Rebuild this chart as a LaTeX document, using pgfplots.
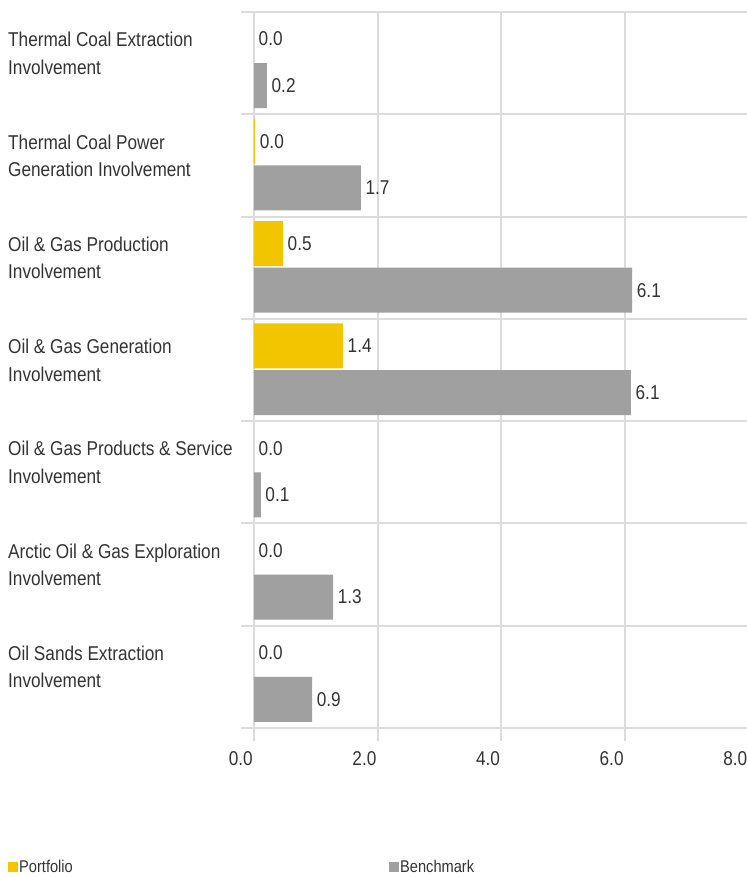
\documentclass[border=0pt]{standalone}
\usepackage{pgfplots}
\pgfplotsset{compat=1.18}
\usepackage{fontspec}
\setmainfont{Liberation Sans}[FakeStretch=0.86]
\definecolor{pyellow}{HTML}{F2C500}
\definecolor{bgray}{HTML}{A0A0A0}
\definecolor{gridc}{HTML}{DCDCDC}
\definecolor{txt}{HTML}{333333}
\newcommand{\bigf}{\fontsize{20}{24}\selectfont}
\begin{document}
\begin{tikzpicture}
\useasboundingbox (-254pt,-148pt) rectangle (493pt,728pt);
\begin{axis}[
  scale only axis, width=494.4pt, height=716pt,
  xmin=0, xmax=8, ymin=0, ymax=7,
  xtick={0,2,4,6,8}, xticklabels={0.0,2.0,4.0,6.0,8.0},
  ytick={0,1,2,3,4,5,6,7}, yticklabels={},
  xmajorgrids, ymajorgrids,
  grid style={gridc, line width=2pt},
  major grid style={gridc, line width=2pt},
  tick style={gridc, line width=2pt},
  tick align=outside, major tick length=13pt,
  xtick pos=left, ytick pos=left,
  axis line style={draw=none},
  xticklabel style={font=\bigf, text=txt, anchor=north east, inner sep=0pt, xshift=-1pt, yshift=-10pt},
  clip=false,
  xbar, bar width=0.44,
  nodes near coords={\pgfmathprintnumber[fixed,zerofill,precision=1,assume math mode=true]{\pgfplotspointmeta}},
  every node near coord/.append style={font=\bigf, text=txt, inner sep=0pt, anchor=west, xshift=4.5pt},
  legend style={at={(axis description cs:0,0)}, anchor=west, xshift=-246pt, yshift=-139pt,
    draw=none, fill=none, inner sep=0pt, font=\fontsize{17}{20}\selectfont, text=txt,
    nodes={inner sep=0pt, inner xsep=1pt, text width=369pt, align=left}},
  legend columns=2, legend cell align=left,
]
\addplot[fill=pyellow, draw=none, bar shift=0pt, point meta=x,
  legend image code/.code={\fill[pyellow] (0pt,-5pt) rectangle (10pt,5pt);}]
  coordinates {(0,6.735) (0.02,5.735) (0.47,4.735) (1.44,3.735) (0,2.735) (0,1.735) (0,0.735)};
\addlegendentry{Portfolio}
\addplot[fill=bgray, draw=none, bar shift=0pt, point meta=x,
  legend image code/.code={\fill[bgray] (0pt,-5pt) rectangle (10pt,5pt);}]
  coordinates {(0.21,6.28) (1.73,5.28) (6.12,4.28) (6.10,3.28) (0.11,2.28) (1.28,1.28) (0.94,0.28)};
\addlegendentry{Benchmark}
\begin{scope}[every node/.style={anchor=base west, font=\bigf, text=txt, inner sep=0pt, xshift=-246pt}]
\node at (axis cs:0,6.66) {Thermal Coal Extraction};
\node at (axis cs:0,6.392) {Involvement};
\node at (axis cs:0,5.66) {Thermal Coal Power};
\node at (axis cs:0,5.392) {Generation Involvement};
\node at (axis cs:0,4.66) {Oil \& Gas Production};
\node at (axis cs:0,4.392) {Involvement};
\node at (axis cs:0,3.66) {Oil \& Gas Generation};
\node at (axis cs:0,3.392) {Involvement};
\node at (axis cs:0,2.66) {Oil \& Gas Products \& Service};
\node at (axis cs:0,2.392) {Involvement};
\node at (axis cs:0,1.66) {Arctic Oil \& Gas Exploration};
\node at (axis cs:0,1.392) {Involvement};
\node at (axis cs:0,0.66) {Oil Sands Extraction};
\node at (axis cs:0,0.392) {Involvement};
\end{scope}
\end{axis}
\end{tikzpicture}
\end{document}
